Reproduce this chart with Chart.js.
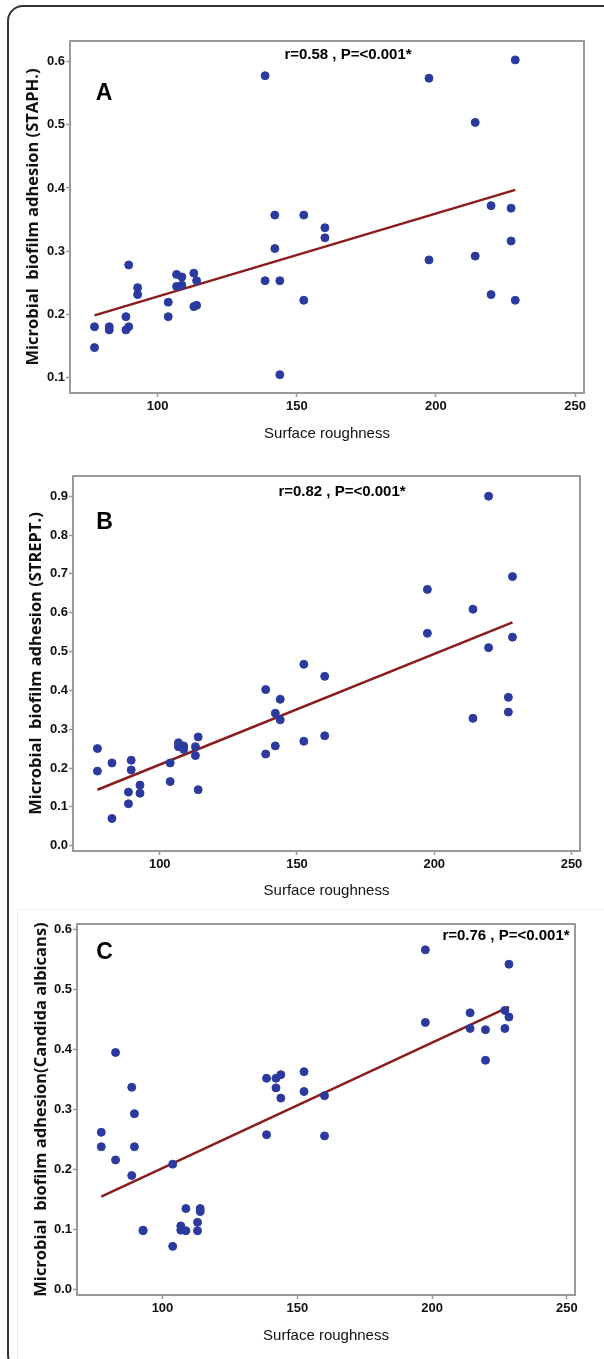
<!DOCTYPE html>
<html>
<head>
<meta charset="utf-8">
<script src="https://cdn.jsdelivr.net/npm/chart.js@4.4.0/dist/chart.umd.min.js"></script>
<style>
  body { margin: 0; background: #fff; }
  #page { position: relative; width: 604px; height: 1359px; overflow: hidden; background: #fff; }
  #outer { position: absolute; left: 7px; top: 5px; width: 620px; height: 1362px; border: 2px solid #333; border-radius: 16px; }
  #sepC { position: absolute; left: 17px; top: 909px; width: 600px; height: 460px; border-left: 1px solid #eee; border-top: 1px solid #eee; }
  canvas { position: absolute; left: 0; }
</style>
</head>
<body>
<div id="page">
  <div id="outer"></div>
  <div id="sepC"></div>
  <canvas id="chartA" width="604" height="450" style="top:0"></canvas>
  <canvas id="chartB" width="604" height="450" style="top:450px"></canvas>
  <canvas id="chartC" width="604" height="459" style="top:900px"></canvas>
</div>
<script>
// surface roughness of each specimen (two readings per sample)
const roughness = [77.3, 77.3, 82.6, 82.6, 88.6, 88.6, 89.6, 89.6, 92.8, 92.8,
  103.8, 103.8, 106.8, 106.8, 108.7, 108.7, 113, 113, 114, 114,
  138.6, 138.6, 142.1, 142.1, 143.9, 143.9, 152.5, 152.5, 160.1, 160.1,
  197.5, 197.5, 214.1, 214.1, 219.8, 219.8, 227, 227, 228.5, 228.5];

const staph = [0.180, 0.147, 0.180, 0.175, 0.196, 0.175, 0.180, 0.278, 0.242, 0.231,
  0.219, 0.196, 0.263, 0.244, 0.259, 0.246, 0.265, 0.212, 0.253, 0.214,
  0.578, 0.253, 0.357, 0.304, 0.253, 0.104, 0.357, 0.222, 0.337, 0.321,
  0.574, 0.286, 0.504, 0.292, 0.372, 0.231, 0.368, 0.316, 0.603, 0.222];

const strept = [0.250, 0.192, 0.213, 0.070, 0.138, 0.108, 0.220, 0.195, 0.156, 0.135,
  0.213, 0.165, 0.265, 0.255, 0.257, 0.248, 0.255, 0.232, 0.280, 0.144,
  0.402, 0.236, 0.341, 0.257, 0.377, 0.324, 0.467, 0.269, 0.436, 0.283,
  0.660, 0.547, 0.609, 0.328, 0.900, 0.510, 0.382, 0.344, 0.693, 0.537];

const candida = [0.262, 0.238, 0.395, 0.216, 0.337, 0.190, 0.293, 0.238, 0.099, 0.098,
  0.209, 0.072, 0.106, 0.099, 0.135, 0.098, 0.112, 0.098, 0.135, 0.130,
  0.352, 0.258, 0.352, 0.336, 0.358, 0.319, 0.363, 0.330, 0.323, 0.256,
  0.566, 0.445, 0.461, 0.435, 0.433, 0.382, 0.465, 0.435, 0.542, 0.454];

// fitted regression lines (end points)
const fitX = [77.3, 228.5];
const fitStaph = [0.198, 0.397];
const fitStrept = [0.144, 0.575];
const fitCandida = [0.155, 0.471];

const xTicks = [100, 150, 200, 250];
const yTicksA = [0.1, 0.2, 0.3, 0.4, 0.5, 0.6];
const yTicksB = [0, 0.1, 0.2, 0.3, 0.4, 0.5, 0.6, 0.7, 0.8, 0.9];
const yTicksC = [0, 0.1, 0.2, 0.3, 0.4, 0.5, 0.6];

const narrow = "'Liberation Sans Narrow', 'Liberation Sans', Arial, sans-serif";

// frame round the plot area + panel letter + r / P text
const panelDecor = {
  id: 'panelDecor',
  afterDraw(chart, args, opts) {
    const { ctx, chartArea: a } = chart;
    ctx.save();
    ctx.strokeStyle = '#9a9a9a';
    ctx.lineWidth = 2;
    ctx.strokeRect(a.left, a.top, a.right - a.left, a.bottom - a.top);
    ctx.fillStyle = '#000';
    ctx.textAlign = 'center';
    ctx.textBaseline = 'middle';
    ctx.font = "bold 23px 'Liberation Sans', Arial, sans-serif";
    ctx.fillText(opts.letter, opts.letterX, opts.letterY);
    ctx.font = 'bold 15px ' + narrow;
    ctx.fillText(opts.stat, opts.statX, opts.statY);
    ctx.restore();
  }
};

function makePanel(id, ys, fitY, yTicks, p) {
  const points = roughness.map((x, i) => ({ x: x, y: ys[i] }));
  const line = fitX.map((x, i) => ({ x: x, y: fitY[i] }));
  new Chart(document.getElementById(id), {
    type: 'scatter',
    data: {
      datasets: [{
        data: points,
        backgroundColor: '#2b3a9e',
        borderColor: '#2b3a9e',
        pointRadius: 4,
        pointHoverRadius: 4
      }, {
        type: 'line',
        data: line,
        borderColor: '#8b1c1c',
        borderWidth: 2.5,
        pointRadius: 0,
        fill: false
      }]
    },
    options: {
      responsive: false,
      animation: false,
      devicePixelRatio: 1,
      layout: { padding: p.pad },
      plugins: {
        legend: { display: false },
        tooltip: { enabled: false },
        panelDecor: p.decor
      },
      scales: {
        x: {
          type: 'linear',
          min: p.xMin, max: p.xMax,
          afterFit: s => { s.height = p.xH; },
          afterBuildTicks: s => { s.ticks = xTicks.map(v => ({ value: v })); },
          border: { display: false },
          grid: { drawOnChartArea: false, drawTicks: true, tickLength: 4, tickColor: '#9a9a9a', tickWidth: 1.5 },
          ticks: { color: '#111', padding: 2, maxRotation: 0, font: { family: narrow, size: 13, weight: 'bold' } },
          title: {
            display: true,
            text: 'Surface roughness',
            color: '#111',
            padding: { top: 0, bottom: p.xTitlePad },
            font: { family: narrow, size: 15 }
          }
        },
        y: {
          min: p.yMin, max: p.yMax,
          afterFit: s => { s.width = p.yW; },
          afterBuildTicks: s => { s.ticks = yTicks.map(v => ({ value: v })); },
          border: { display: false },
          grid: { drawOnChartArea: false, drawTicks: true, tickLength: 4, tickColor: '#9a9a9a', tickWidth: 1.5 },
          ticks: { color: '#111', padding: 1, callback: v => v.toFixed(1), font: { family: narrow, size: 13, weight: 'bold' } },
          title: {
            display: true,
            text: p.yTitle,
            color: '#111',
            padding: { top: p.yTitlePad, bottom: 0 },
            font: { family: "'Open Sans', sans-serif", size: 16.5, weight: 'bold' }
          }
        }
      }
    },
    plugins: [panelDecor]
  });
}

makePanel('chartA', staph, fitStaph, yTicksA, {
  pad: { left: 0, right: 20, top: 41, bottom: 7 },
  xMin: 68.5, xMax: 253.2, yMin: 0.075, yMax: 0.633,
  xH: 50, yW: 70, xTitlePad: 0, yTitlePad: 23,
  yTitle: 'Microbial  biofilm adhesion (STAPH.)',
  decor: { letter: 'A', letterX: 104, letterY: 94, stat: 'r=0.58 , P=<0.001*', statX: 348, statY: 55 }
});

makePanel('chartB', strept, fitStrept, yTicksB, {
  pad: { left: 0, right: 24, top: 26, bottom: 0 },
  xMin: 68.4, xMax: 253.1, yMin: -0.0137, yMax: 0.952,
  xH: 49, yW: 73, xTitlePad: 0, yTitlePad: 26.5,
  yTitle: 'Microbial  biofilm adhesion (STREPT.)',
  decor: { letter: 'B', letterX: 104.5, letterY: 73, stat: 'r=0.82 , P=<0.001*', statX: 342, statY: 42 }
});

makePanel('chartC', candida, fitCandida, yTicksC, {
  pad: { left: 0, right: 29, top: 24, bottom: 14 },
  xMin: 68.3, xMax: 253.0, yMin: -0.009, yMax: 0.609,
  xH: 50, yW: 77, xTitlePad: 0, yTitlePad: 31.5,
  yTitle: 'Microbial  biofilm adhesion(Candida albicans)',
  decor: { letter: 'C', letterX: 104.5, letterY: 53, stat: 'r=0.76 , P=<0.001*', statX: 506, statY: 36 }
});
</script>
</body>
</html>
